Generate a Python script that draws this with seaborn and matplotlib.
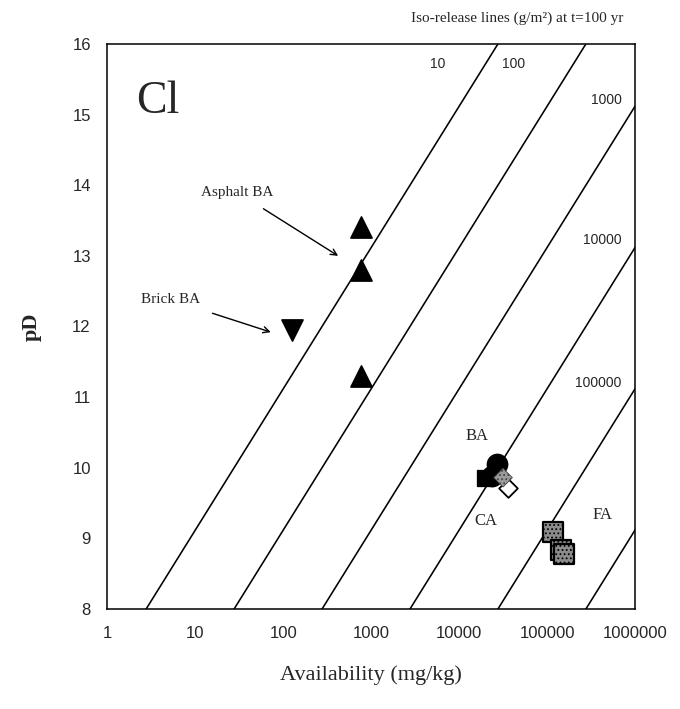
import numpy as np
import pandas as pd
import matplotlib
matplotlib.use("Agg")
import matplotlib.pyplot as plt
import seaborn as sns
from matplotlib.ticker import FixedLocator, FixedFormatter, LogLocator, NullFormatter

# ---------------- data ----------------
release_levels = [10, 100, 1000, 10000, 100000, 1000000]      # g/m2 at t=100 yr
release_offset = 9.12                                          # pD = 2 log A - 2 log R + offset
line_label_text = ["10", "100", "1000", "10000", "100000"]
line_label_A = [7000, 56000, 700000, 700000, 700000]
line_label_pD = [15.72, 15.72, 15.20, 13.22, 11.20]

asphalt_A = [760, 760, 760]
asphalt_pD = [13.41, 12.80, 11.30]
brick_A = [125]
brick_pD = [11.95]
ba_circle_A = [26900, 23600]
ba_circle_pD = [10.05, 9.88]
ca_square_A = [19800]
ca_square_pD = [9.86]
gray_diamond_A = [31500]
gray_diamond_pD = [9.86]
open_diamond_A = [36000]
open_diamond_pD = [9.72]
fa_A = [117000, 145000, 155000]
fa_pD = [9.09, 8.84, 8.78]

x_ticks = [1, 10, 100, 1000, 10000, 100000, 1000000]
x_tick_labels = ["1", "10", "100", "1000", "10000", "100000", "1000000"]
y_ticks = [8, 9, 10, 11, 12, 13, 14, 15, 16]

# ---------------- figure ----------------
sns.set_style("white")
plt.rcParams["font.family"] = ["Liberation Serif", "DejaVu Serif"]
plt.rcParams["hatch.linewidth"] = 0.8

fig = plt.figure(figsize=(6.8, 7.09), dpi=100)
ax = fig.add_axes([0.158, 0.141, 0.776, 0.797])

# iso-release lines
A_grid = np.array([0.5, 2e6])
rows = []
for R in release_levels:
    for a in A_grid:
        rows.append({"R": R, "A": a,
                     "pD": 2 * np.log10(a) - 2 * np.log10(R) + release_offset})
lines_df = pd.DataFrame(rows)
sns.lineplot(data=lines_df, x="A", y="pD", units="R", estimator=None,
             color="black", lw=1.15, ax=ax, legend=False)

for t, a, p in zip(line_label_text, line_label_A, line_label_pD):
    ax.text(a, p, t, ha="right", va="center", fontsize=10,
            family=["Liberation Sans", "DejaVu Sans"])

# data points
def pts(a, p):
    return pd.DataFrame({"A": a, "pD": p})

sns.scatterplot(data=pts(asphalt_A, asphalt_pD), x="A", y="pD", marker="^",
                s=230, color="black", edgecolor="black", ax=ax, zorder=5)
sns.scatterplot(data=pts(brick_A, brick_pD), x="A", y="pD", marker="v",
                s=230, color="black", edgecolor="black", ax=ax, zorder=5)
sns.scatterplot(data=pts(ba_circle_A, ba_circle_pD), x="A", y="pD", marker="o",
                s=210, color="black", edgecolor="black", ax=ax, zorder=5)
sns.scatterplot(data=pts(ca_square_A, ca_square_pD), x="A", y="pD", marker="s",
                s=140, color="black", edgecolor="black", ax=ax, zorder=5)
sns.scatterplot(data=pts(open_diamond_A, open_diamond_pD), x="A", y="pD", marker="D",
                s=90, color="white", edgecolor="black", linewidth=1.3, ax=ax, zorder=4)
sns.scatterplot(data=pts(gray_diamond_A, gray_diamond_pD), x="A", y="pD", marker="D",
                s=90, color="#9a9a9a", edgecolor="#444444", linewidth=0.6,
                hatch="....", ax=ax, zorder=6)
sns.scatterplot(data=pts(fa_A, fa_pD), x="A", y="pD", marker="s",
                s=210, color="#8c8c8c", edgecolor="black", linewidth=1.6,
                hatch="....", ax=ax, zorder=5)

# annotations
ax.text(2.1, 15.02, "Cl", fontsize=33, ha="left", va="baseline")
ax.text(16000, 10.45, "BA", fontsize=12, ha="center", va="center")
ax.text(20000, 9.25, "CA", fontsize=12, ha="center", va="center")
ax.text(430000, 9.33, "FA", fontsize=12, ha="center", va="center")
ax.annotate("Asphalt BA", xy=(420, 13.0), xytext=(30, 13.9), fontsize=11,
            ha="center", va="center",
            arrowprops=dict(arrowstyle="->", color="black", lw=1.0,
                            shrinkA=9, shrinkB=0))
ax.annotate("Brick BA", xy=(72, 11.92), xytext=(5.2, 12.38), fontsize=11,
            ha="center", va="center",
            arrowprops=dict(arrowstyle="->", color="black", lw=1.0,
                            shrinkA=9, shrinkB=0))

# axes
ax.set_xscale("log")
ax.set_xlim(1, 1000000)
ax.set_ylim(8, 16)
ax.xaxis.set_major_locator(FixedLocator(x_ticks))
ax.xaxis.set_major_formatter(FixedFormatter(x_tick_labels))
ax.xaxis.set_minor_locator(LogLocator(base=10, subs=np.arange(2, 10), numticks=20))
ax.xaxis.set_minor_formatter(NullFormatter())
ax.yaxis.set_major_locator(FixedLocator(y_ticks))
ax.tick_params(axis="both", which="major", direction="in", length=8, width=1,
               top=False, right=False, labelsize=12, pad=12)
ax.tick_params(axis="x", which="minor", direction="in", length=4, width=0.9,
               top=False)
for lab in ax.get_xticklabels() + ax.get_yticklabels():
    lab.set_family(["Liberation Sans", "DejaVu Sans"])
for sp in ax.spines.values():
    sp.set_linewidth(1.1)
    sp.set_color("black")

ax.set_xlabel("Availability (mg/kg)", fontsize=16, labelpad=18)
ax.set_ylabel("pD", fontsize=16, fontweight="bold", labelpad=22)

fig.text(623 / 680, 1 - 18 / 709, "Iso-release lines (g/m²) at t=100 yr",
         ha="right", va="center", fontsize=11)

fig.savefig("out.png", dpi=100)
